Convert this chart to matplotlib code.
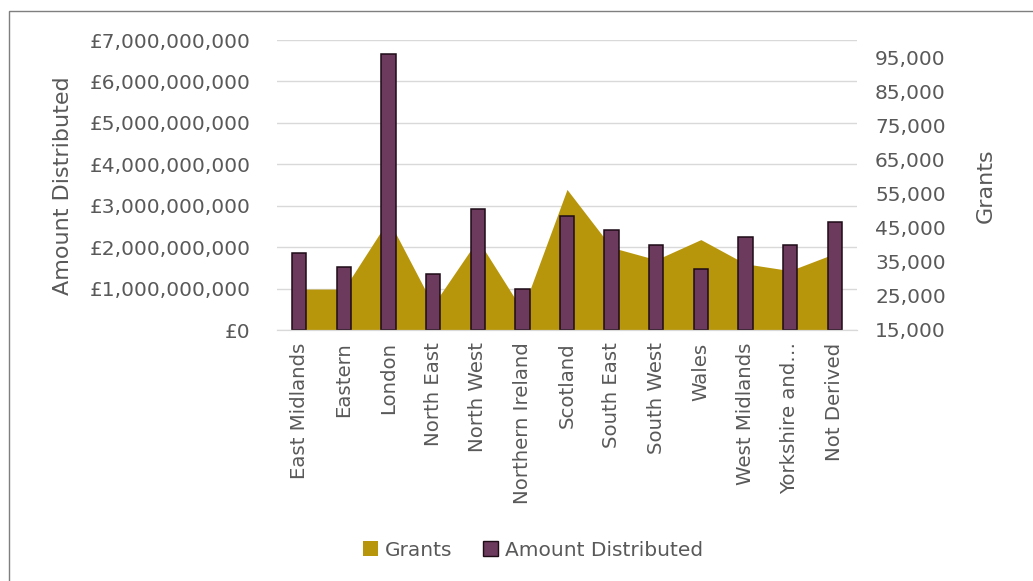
import numpy as np
import matplotlib
matplotlib.use('Agg')
import matplotlib.pyplot as plt
from matplotlib.patches import Rectangle
from matplotlib.ticker import FuncFormatter

regions = ['East Midlands', 'Eastern', 'London', 'North East', 'North West',
           'Northern Ireland', 'Scotland', 'South East', 'South West', 'Wales',
           'West Midlands', 'Yorkshire and\u2026', 'Not Derived']
amount = [1.86e9, 1.53e9, 6.66e9, 1.35e9, 2.93e9, 0.99e9, 2.76e9,
          2.41e9, 2.06e9, 1.47e9, 2.25e9, 2.06e9, 2.60e9]
grants = [27000, 27000, 47300, 22300, 41500, 20800, 56200,
          39200, 35600, 41500, 34400, 32400, 37400]

gold = '#B8960C'
purple = '#6B3A5C'
txt = '#595959'

plt.rcParams['font.family'] = ['DejaVu Sans']

fig = plt.figure(figsize=(10.33, 5.81), dpi=100)
fig.patch.set_facecolor('white')
ax = fig.add_axes([277/1033, 1 - 330/581, 580/1033, 290/581])
ax2 = ax.twinx()
ax2.patch.set_visible(False)

x = np.arange(len(regions))

# grid < area < bars, all drawn in the primary axes
ax.set_axisbelow(True)
ax.grid(axis='y', color='#d9d9d9', linewidth=1)
ax.fill_between(x, grants, 15000, color=gold, linewidth=0,
                transform=ax2.transData, zorder=1)
ax.bar(x, amount, width=0.32, color=purple, edgecolor='#1e0b16',
       linewidth=1.1, zorder=2)

ax.set_xlim(-0.5, len(regions) - 0.5)
ax.set_ylim(0, 7e9)
ax.set_yticks(np.arange(0, 7.1e9, 1e9))
ax.yaxis.set_major_formatter(FuncFormatter(lambda v, p: '\u00a3{:,.0f}'.format(v)))
ax2.set_ylim(15000, 100000)
ax2.set_yticks(np.arange(15000, 95001, 10000))
ax2.yaxis.set_major_formatter(FuncFormatter(lambda v, p: '{:,.0f}'.format(v)))

ax.set_xticks(x)
ax.set_xticklabels(regions, rotation=90, fontsize=14.2, color=txt)
ax.tick_params(axis='x', length=0, pad=9)
ax.tick_params(axis='y', length=0, pad=19, labelsize=14.5, labelcolor=txt)
ax2.tick_params(axis='y', length=0, pad=13, labelsize=14.5, labelcolor=txt)

for a in (ax, ax2):
    for s in ('left', 'right', 'top'):
        a.spines[s].set_visible(False)
    a.spines['bottom'].set_color('#d9d9d9')

fig.text(63/1033, 1 - 186/581, 'Amount Distributed', rotation=90,
         ha='center', va='center', fontsize=16, color=txt)
fig.text(986/1033, 1 - 186/581, 'Grants', rotation=90,
         ha='center', va='center', fontsize=16, color=txt)

h1 = Rectangle((0, 0), 1, 1, facecolor=gold, edgecolor='none')
h2 = Rectangle((0, 0), 1, 1, facecolor=purple, edgecolor='#1e0b16', linewidth=1)
fig.legend([h1, h2], ['Grants', 'Amount Distributed'], loc='center',
           bbox_to_anchor=(533/1033, 1 - 550/581), ncol=2, frameon=False,
           fontsize=14.5, labelcolor=txt, handlelength=0.75, handleheight=0.75,
           handletextpad=0.35, columnspacing=1.5)

# chart border (cropped at right and bottom)
fig.add_artist(Rectangle((9/1033, -0.5), 2, 1.5 - 11/581, transform=fig.transFigure,
                         fill=False, edgecolor='#7f7f7f', linewidth=1))

fig.savefig('out.png', dpi=100)
